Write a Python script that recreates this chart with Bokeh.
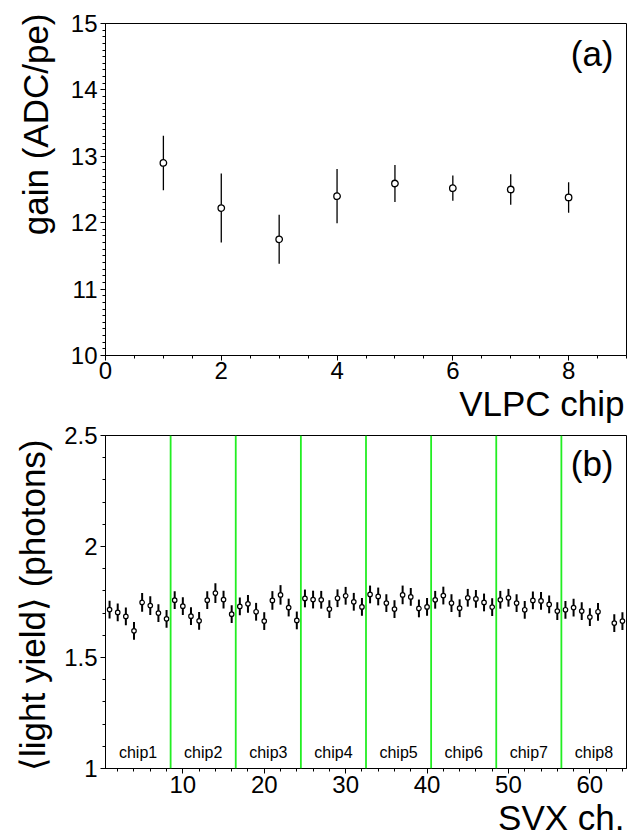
import math
from bokeh.plotting import figure
from bokeh.models import (Range1d, FixedTicker, CustomJSTickFormatter, Label,
                          ColumnDataSource, Span, Title)
from bokeh.layouts import column
from bokeh.embed import file_html
from bokeh.resources import INLINE
from bokeh.core.properties import value

FONT = "Liberation Sans"

# ---------------- data: panel (a) ----------------
vlpc_chip = [1, 2, 3, 4, 5, 6, 7, 8]
gain = [12.90, 12.22, 11.75, 12.40, 12.59, 12.52, 12.50, 12.38]
gain_err = [0.41, 0.52, 0.37, 0.41, 0.28, 0.19, 0.23, 0.23]

# ---------------- data: panel (b) ----------------
svx_ch = [1, 2, 3, 4, 5, 6, 7, 8,
          9, 10, 11, 12, 13, 14, 15, 16,
          17, 18, 19, 20, 21, 22, 23, 24,
          25, 26, 27, 28, 29, 30, 31, 32,
          33, 34, 35, 36, 37, 38, 39, 40,
          41, 42, 43, 44, 45, 46, 47, 48,
          49, 50, 51, 52, 53, 54, 55, 56,
          57, 58, 59, 60, 61, 63, 64]
light_yield = [1.716, 1.703, 1.685, 1.620, 1.748, 1.734, 1.700, 1.674,
               1.758, 1.731, 1.686, 1.665, 1.758, 1.790, 1.761, 1.695,
               1.730, 1.742, 1.706, 1.664, 1.757, 1.782, 1.725, 1.667,
               1.766, 1.761, 1.760, 1.718, 1.767, 1.778, 1.751, 1.728,
               1.784, 1.775, 1.745, 1.718, 1.782, 1.773, 1.721, 1.728,
               1.760, 1.779, 1.745, 1.722, 1.769, 1.764, 1.748, 1.727,
               1.760, 1.769, 1.745, 1.715, 1.757, 1.755, 1.739, 1.709,
               1.715, 1.725, 1.709, 1.682, 1.706, 1.655, 1.664]
light_yield_err = [0.040, 0.040, 0.040, 0.040, 0.042, 0.042, 0.040, 0.040,
                   0.040, 0.040, 0.040, 0.040, 0.040, 0.044, 0.040, 0.040,
                   0.040, 0.040, 0.040, 0.040, 0.042, 0.044, 0.040, 0.040,
                   0.040, 0.040, 0.040, 0.040, 0.040, 0.040, 0.040, 0.040,
                   0.040, 0.040, 0.040, 0.040, 0.042, 0.040, 0.040, 0.040,
                   0.040, 0.040, 0.040, 0.040, 0.040, 0.040, 0.040, 0.040,
                   0.040, 0.040, 0.040, 0.040, 0.040, 0.040, 0.040, 0.040,
                   0.040, 0.040, 0.040, 0.040, 0.040, 0.040, 0.040]
chip_boundaries = [8.5, 16.5, 24.5, 32.5, 40.5, 48.5, 56.5]
chip_names = ["chip1", "chip2", "chip3", "chip4", "chip5", "chip6", "chip7", "chip8"]
chip_centers = [4.5, 12.5, 20.5, 28.5, 36.5, 44.5, 52.5, 60.5]

# tick positions
a_xticks = [0, 2, 4, 6, 8]
a_yticks = [10, 11, 12, 13, 14, 15]
b_xticks = [10, 20, 30, 40, 50, 60]
b_yticks = [1, 1.5, 2, 2.5]


def style_axes(p):
    p.grid.visible = False
    p.outline_line_color = "black"
    p.outline_line_width = 1
    p.background_fill_color = "white"
    p.border_fill_color = "white"
    for ax in (p.xaxis[0], p.yaxis[0]):
        ax.major_label_text_font = FONT
        ax.major_label_text_font_size = "24px"
        ax.major_label_text_color = "black"
        ax.axis_line_color = "black"
        ax.axis_line_width = 1
        ax.major_tick_line_color = "black"
        ax.minor_tick_line_color = "black"
        ax.major_tick_in = 0
        ax.major_tick_out = 5
        ax.minor_tick_in = 0
        ax.minor_tick_out = 3
        ax.major_label_standoff = 3


def side_title(p, text, side, offset, standoff, valign="bottom"):
    p.add_layout(Title(text=text, align="right", vertical_align=valign, offset=offset,
                       standoff=standoff, text_font=FONT, text_font_size="35px",
                       text_font_style="normal", text_color="black"), side)


def frame_label(p, text, x, y, align="left", size="35px"):
    # x, y in pixels relative to the frame's bottom-left corner
    p.add_layout(Label(x=x, y=y, x_units="screen", y_units="screen", text=text,
                       text_font=FONT, text_font_size=size, text_color="black",
                       text_align=align, text_baseline="alphabetic"))


# ---------------- panel (a) ----------------
p1 = figure(width=628, height=424, x_range=Range1d(0, 9), y_range=Range1d(10, 15),
            output_backend="svg", toolbar_location=None,
            min_border_left=104, min_border_right=2, min_border_top=23, min_border_bottom=69)
style_axes(p1)
p1.xaxis.major_label_standoff = 1
p1.xaxis.ticker = FixedTicker(ticks=a_xticks, minor_ticks=[i * 0.5 for i in range(0, 19)])
p1.yaxis.ticker = FixedTicker(ticks=a_yticks, minor_ticks=[10 + i * 0.1 for i in range(0, 51)])
side_title(p1, "VLPC chip", "below", 2, 0)
side_title(p1, "gain (ADC/pe)", "left", -10, 26)

src_a = ColumnDataSource(dict(
    x=vlpc_chip, y=gain,
    lo=[g - e for g, e in zip(gain, gain_err)],
    hi=[g + e for g, e in zip(gain, gain_err)]))
p1.segment(x0="x", y0="lo", x1="x", y1="hi", source=src_a, line_color="black", line_width=1.3)
p1.scatter("x", "y", source=src_a, marker="circle", size=6.5, fill_color="white",
           line_color="black", line_width=1.3)

frame_label(p1, "(a)", 508, 302, align="right")

# ---------------- panel (b) ----------------
p2 = figure(width=628, height=412, x_range=Range1d(0.5, 64.5), y_range=Range1d(1, 2.5),
            output_backend="svg", toolbar_location=None,
            min_border_left=104, min_border_right=2, min_border_top=11, min_border_bottom=68)
style_axes(p2)
p2.xaxis.major_label_standoff = 2
p2.xaxis.ticker = FixedTicker(ticks=b_xticks, minor_ticks=[i * 2 for i in range(1, 33)])
p2.yaxis.ticker = FixedTicker(ticks=b_yticks, minor_ticks=[1 + i * 0.1 for i in range(0, 16)])
p2.yaxis.formatter = CustomJSTickFormatter(code="return String(tick);")
side_title(p2, "SVX ch.", "below", 2, 0)
side_title(p2, "\u27e8light yield\u27e9 (photons)", "left", 4, 20)

for b in chip_boundaries:
    p2.add_layout(Span(location=b, dimension="height", line_color="#22ee22", line_width=1.8))

src_b = ColumnDataSource(dict(
    x=svx_ch, y=light_yield,
    lo=[v - e for v, e in zip(light_yield, light_yield_err)],
    hi=[v + e for v, e in zip(light_yield, light_yield_err)]))
p2.segment(x0="x", y0="lo", x1="x", y1="hi", source=src_b, line_color="black", line_width=2)
p2.scatter("x", "y", source=src_b, marker="circle", size=4.5, fill_color="white",
           line_color="black", line_width=1.2)

p2.text(x=chip_centers, y=[1.035] * len(chip_centers), text=chip_names,
        text_font=value(FONT), text_font_size="16px", text_color="black",
        text_align="center", text_baseline="bottom")

frame_label(p2, "(b)", 508, 305, align="right")

layout = column(p1, p2, spacing=0)
open("out.html", "w").write(file_html(layout, INLINE))
